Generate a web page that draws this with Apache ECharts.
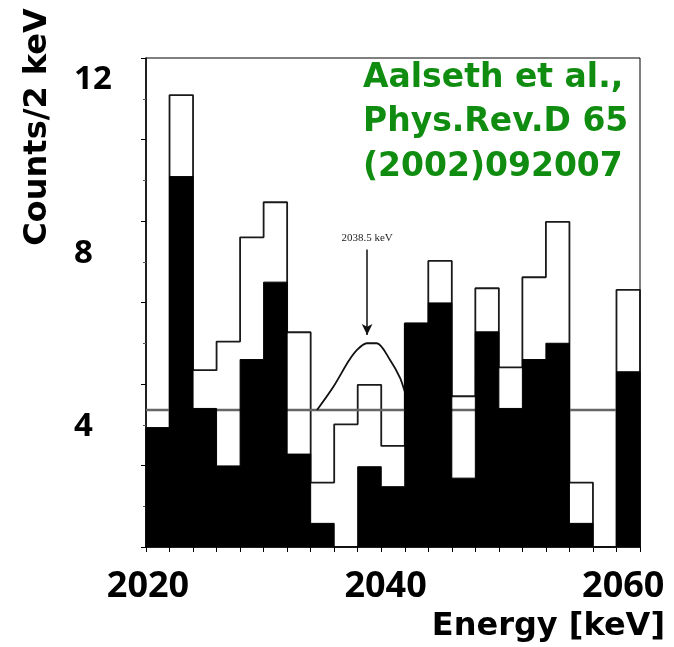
<!DOCTYPE html>
<html>
<head>
<meta charset="utf-8">
<script src="https://cdn.jsdelivr.net/npm/echarts@6/dist/echarts.min.js"></script>
<style>html,body{margin:0;padding:0;background:#fff}#c{width:674px;height:647px}</style>
</head>
<body>
<div id="c"></div>
<script>
// Bin lower edges (keV), 2 keV wide bins
var binStart = [2020,2022,2024,2026,2028,2030,2032,2034,2036,2038,2040,2042,2044,2046,2048,2050,2052,2054,2056,2058,2060];
var binEnd = 2062;
// Total (open histogram) counts per 2 keV
var openCounts = [2.92,11.09,4.34,5.04,7.60,8.46,5.27,1.58,3.01,3.98,2.48,5.49,7.02,3.70,6.35,4.41,6.62,7.98,1.58,0,6.31];
// PSD-selected (filled histogram) counts per 2 keV
var psdCounts  = [2.92,9.09,3.40,1.99,4.60,6.50,2.28,0.58,0,1.97,1.48,5.49,5.99,1.69,5.28,3.40,4.60,5.00,0.58,0,4.30];
// Flat background level
var bgLevel = 3.36;
// Expected peak curve (keV, counts)
var peakX = [2034.54,2035.93,2037.2,2037.92,2038.77,2039.62,2040.75,2041.6,2042.17,2042.8,2043.3];
var peakY = [3.36,3.93,4.55,4.83,5.0,5.0,4.59,4.15,3.69,3.42,3.36];
// Arrow marking 2038.5 keV
var arrowX = 2038.8, arrowTop = 7.3, arrowTip = 5.2;
var arrowLabel = '2038.5 keV';
// Tick labels
var xTickLabels = [2020,2040,2060];
var yTickLabels = [4,8,12];

function stepData(vals){
  var d = [[binStart[0],0]];
  for (var i=0;i<binStart.length;i++) d.push([binStart[i], vals[i]]);
  d.push([binEnd, vals[vals.length-1]]);
  d.push([binEnd, 0]);
  return d;
}
var peakData = peakX.map(function(x,i){return [x, peakY[i]];});

var chart = echarts.init(document.getElementById('c'));
chart.setOption({
  animation:false,
  backgroundColor:'#fff',
  grid:[
    {left:146,right:34,top:58,bottom:100,show:true,borderColor:'#000',borderWidth:1,backgroundColor:'transparent'},
    {left:148,right:27,top:80,bottom:220,show:false}
  ],
  xAxis:[
    {type:'value',gridIndex:0,min:2020,max:2062,interval:2,
     axisLine:{lineStyle:{color:'#000',width:1.5}},
     axisTick:{show:true,length:5,lineStyle:{color:'#000'}},
     axisLabel:{show:false},splitLine:{show:false}},
    {type:'value',gridIndex:1,min:2020,max:2062,offset:120,
     axisLine:{show:false},axisTick:{show:false},splitLine:{show:false},
     axisLabel:{customValues:xTickLabels,margin:22,color:'#000',fontFamily:'Noto Sans',fontWeight:'bold',fontSize:36,
       formatter:function(v){return String(v);}}}
  ],
  yAxis:[
    {type:'value',gridIndex:0,min:0,max:12,interval:2,
     axisLine:{show:true,lineStyle:{color:'#000',width:1.5}},
     axisTick:{show:true,length:5,lineStyle:{color:'#000'}},
     minorTick:{show:true,splitNumber:2,length:3,lineStyle:{color:'#555'}},
     axisLabel:{show:false},splitLine:{show:false}},
    {type:'value',gridIndex:1,min:4,max:12,interval:4,
     axisLine:{show:false},axisTick:{show:false},splitLine:{show:false},
     axisLabel:{customValues:yTickLabels,align:'left',margin:74,color:'#000',fontFamily:'Noto Sans',fontWeight:'bold',fontSize:33,
       formatter:function(v){return String(v);}}}
  ],
  series:[
    {type:'line',name:'total',xAxisIndex:0,yAxisIndex:0,step:'end',data:stepData(openCounts),
     symbol:'none',lineStyle:{color:'#1a1a1a',width:1.8},z:2},
    {type:'line',name:'background',xAxisIndex:0,yAxisIndex:0,data:[[binStart[0],bgLevel],[binEnd,bgLevel]],
     symbol:'none',lineStyle:{color:'#666',width:2.5},z:3},
    {type:'line',name:'peak',xAxisIndex:0,yAxisIndex:0,data:peakData,smooth:0.3,
     symbol:'none',lineStyle:{color:'#111',width:1.8},z:4,
     markLine:{silent:true,symbol:['none','arrow'],symbolSize:[8,11],
       lineStyle:{color:'#111',width:1.5,type:'solid'},
       label:{show:true,position:'start',formatter:arrowLabel,fontFamily:'Liberation Serif',fontSize:11,color:'#222',distance:6},
       data:[[{coord:[arrowX,arrowTop]},{coord:[arrowX,arrowTip]}]]}},
    {type:'line',name:'psd',xAxisIndex:0,yAxisIndex:0,step:'end',data:stepData(psdCounts),
     symbol:'none',lineStyle:{color:'#000',width:1},areaStyle:{color:'#000',opacity:1},z:5}
  ],
  graphic:[
    {type:'text',x:38,y:127,rotation:Math.PI/2,
     style:{text:'Counts/2 keV',fill:'#000',font:'bold 32px "DejaVu Sans"',textAlign:'center',textVerticalAlign:'middle'}},
    {type:'text',x:665,y:627,
     style:{text:'Energy [keV]',fill:'#000',font:'bold 32px "DejaVu Sans"',textAlign:'right',textVerticalAlign:'middle'}},
    {type:'text',x:363,y:95,style:{text:'Aalseth et al.,',fill:'#108c10',font:'bold 33px "DejaVu Sans"',textAlign:'left',textVerticalAlign:'bottom'}},
    {type:'text',x:363,y:139,style:{text:'Phys.Rev.D 65',fill:'#108c10',font:'bold 33px "DejaVu Sans"',textAlign:'left',textVerticalAlign:'bottom'}},
    {type:'text',x:363,y:184,style:{text:'(2002)092007',fill:'#108c10',font:'bold 33px "DejaVu Sans"',textAlign:'left',textVerticalAlign:'bottom'}}
  ]
});
</script>
</body>
</html>
